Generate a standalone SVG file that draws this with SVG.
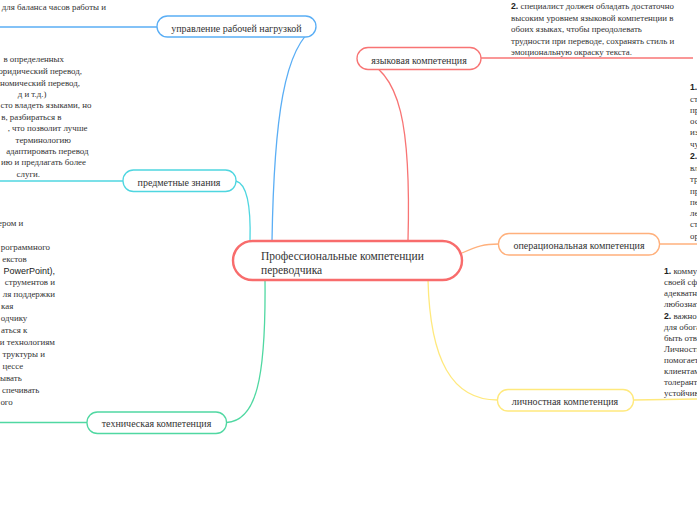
<svg xmlns="http://www.w3.org/2000/svg" width="697" height="520" viewBox="0 0 697 520">
<style>
.bg{fill:#ffffff}
.t{font-family:"Liberation Serif","Times New Roman",serif;font-size:8.9px;fill:#333}
.b{font-family:"Liberation Sans",Arial,sans-serif;font-size:8.7px;font-weight:bold;fill:#222}
.s{font-family:"Liberation Sans",Arial,sans-serif;font-size:9px;fill:#222}
.lbl{font-family:"Liberation Serif","Times New Roman",serif;font-size:10px;fill:#333;text-anchor:middle}
.ctr{font-family:"Liberation Serif","Times New Roman",serif;font-size:11.5px;fill:#333}
.n{fill:#ffffff;stroke-width:1.3}
.c{fill:none;stroke-width:1.3}
.end{text-anchor:end}
</style>
<rect class="bg" x="0" y="0" width="697" height="520"/>

<g id="connectors">
  <path class="c" stroke="#5aaef5" d="M272 241 C274 120 284 45 316 27"/>
  <path class="c" stroke="#5aaef5" d="M157 27 L0 27"/>
  <path class="c" stroke="#f87474" d="M408 241 C411 130 402 68 357 58"/>
  <path class="c" stroke="#f87474" d="M481 58 L693 58"/>
  <path class="c" stroke="#4fd6e0" d="M250 241 C251 205 247 184 236 181"/>
  <path class="c" stroke="#4fd6e0" d="M123 181 L0 181"/>
  <path class="c" stroke="#ffb07c" d="M462 253 C478 246 484 244 498.5 244"/>
  <path class="c" stroke="#ffb07c" d="M659.5 244 L697 244"/>
  <path class="c" stroke="#ffe97d" d="M428 280 C430 360 452 400 497.5 400"/>
  <path class="c" stroke="#ffe97d" d="M633.5 400 L697 399"/>
  <path class="c" stroke="#50d8a2" d="M265 280 C266 380 256 421 226.5 422.5"/>
  <path class="c" stroke="#50d8a2" d="M87 422.5 L0 422.5"/>
</g>

<g id="center">
  <rect x="233" y="241" width="229" height="39" rx="19.5" fill="#ffffff" stroke="#f86c6c" stroke-width="2.4"/>
  <text class="ctr" x="261" y="259.5">Профессиональные компетенции</text>
  <text class="ctr" x="261" y="273.5">переводчика</text>
</g>

<g id="node-workload">
  <rect class="n" x="157" y="16" width="159" height="21" rx="10.5" stroke="#5aaef5"/>
  <text class="lbl" x="236.5" y="31.5">управление рабочей нагрузкой</text>
</g>

<g id="node-language">
  <rect class="n" x="357" y="47.5" width="124" height="22" rx="11" stroke="#f87474"/>
  <text class="lbl" x="419" y="63.5">языковая компетенция</text>
</g>

<g id="node-subject">
  <rect class="n" x="123" y="170" width="113" height="21.5" rx="10.5" stroke="#4fd6e0"/>
  <text class="lbl" x="179" y="186">предметные знания</text>
</g>

<g id="node-operational">
  <rect class="n" x="498.5" y="233.5" width="161" height="21.5" rx="10.5" stroke="#ffb07c"/>
  <text class="lbl" x="579" y="248.5">операциональная компетенция</text>
</g>

<g id="node-personal">
  <rect class="n" x="497.5" y="389.5" width="136" height="21.5" rx="10.5" stroke="#ffe97d"/>
  <text class="lbl" x="565" y="404.5">личностная компетенция</text>
</g>

<g id="node-technical">
  <rect class="n" x="87" y="412" width="139.5" height="21.5" rx="10.5" stroke="#50d8a2"/>
  <text class="lbl" x="156.5" y="426.8">техническая компетенция</text>
</g>

<g id="note-workload">
  <text class="t end" x="106" y="10">для баланса часов работы и</text>
</g>

<g id="note-language">
  <text class="t" x="511" y="9"><tspan class="b">2.</tspan> специалист должен обладать достаточно</text>
  <text class="t" x="511" y="20.5">высоким уровнем языковой компетенции в</text>
  <text class="t" x="511" y="32">обоих языках, чтобы преодолевать</text>
  <text class="t" x="511" y="43.5">трудности при переводе, сохранять стиль и</text>
  <text class="t" x="511" y="55">эмоциональную окраску текста.</text>
</g>

<g id="note-subject">
  <text class="t end" x="64" y="61.5">в определенных</text>
  <text class="t end" x="82" y="73.5">юридический перевод,</text>
  <text class="t end" x="80" y="85.5">номический перевод,</text>
  <text class="t end" x="46.5" y="96.5">д и т.д.)</text>
  <text class="t end" x="91.5" y="107.5">сто владеть языками, но</text>
  <text class="t end" x="61.5" y="119.5">в, разбираться в</text>
  <text class="t end" x="87.5" y="131">, что позволит лучше</text>
  <text class="t end" x="71" y="142.5">терминологию</text>
  <text class="t end" x="88.5" y="153.5">адаптировать перевод</text>
  <text class="t end" x="86" y="165">ию и предлагать более</text>
  <text class="t end" x="40" y="176.5">слуги.</text>
</g>

<g id="note-technical">
  <text class="t end" x="23.3" y="226">ером и</text>
  <text class="t end" x="50" y="250">рограммного</text>
  <text class="t end" x="26.7" y="261.5">екстов</text>
  <text class="s end" x="55" y="274">PowerPoint),</text>
  <text class="t end" x="55" y="285">струментов и</text>
  <text class="t end" x="55" y="297.3">ля поддержки</text>
  <text class="t end" x="13.3" y="309.3">кая</text>
  <text class="t end" x="27.3" y="320.6">одчику</text>
  <text class="t end" x="27.3" y="332.6">аться к</text>
  <text class="t end" x="55" y="345">и технологиям</text>
  <text class="t end" x="45" y="357.3">труктуры и</text>
  <text class="t end" x="23.3" y="369.3">цессе</text>
  <text class="t end" x="21.7" y="381">ывать</text>
  <text class="t end" x="39.3" y="393.3">спечивать</text>
  <text class="t end" x="12.7" y="405">ого</text>
</g>

<g id="note-operational">
  <text class="b" x="690" y="89.5">1.</text>
  <text class="t" x="690" y="101.5">ст</text>
  <text class="t" x="690" y="112.7">пр</text>
  <text class="t" x="690" y="124">ос</text>
  <text class="t" x="690" y="135">из</text>
  <text class="t" x="690" y="146.7">чу</text>
  <text class="b" x="690" y="159">2.</text>
  <text class="t" x="690" y="170.7">вл</text>
  <text class="t" x="690" y="181.7">тр</text>
  <text class="t" x="690" y="194">пр</text>
  <text class="t" x="690" y="205">пе</text>
  <text class="t" x="690" y="216">ле</text>
  <text class="t" x="690" y="227.3">ст</text>
  <text class="t" x="690" y="239">ор</text>
</g>

<g id="note-personal">
  <text class="t" x="664" y="274"><tspan class="b">1.</tspan> коммуни</text>
  <text class="t" x="664" y="285.2">своей сфе</text>
  <text class="t" x="664" y="296.3">адекватно</text>
  <text class="t" x="664" y="307.4">любознате</text>
  <text class="t" x="664" y="318.5"><tspan class="b">2.</tspan> важно</text>
  <text class="t" x="664" y="329.6">для обога</text>
  <text class="t" x="664" y="340.7">быть отве</text>
  <text class="t" x="664" y="351.8">Личностн</text>
  <text class="t" x="664" y="362.9">помогает</text>
  <text class="t" x="664" y="374">клиентам</text>
  <text class="t" x="664" y="385.1">толеранти</text>
  <text class="t" x="664" y="396.2">устойчиво</text>
</g>
</svg>
